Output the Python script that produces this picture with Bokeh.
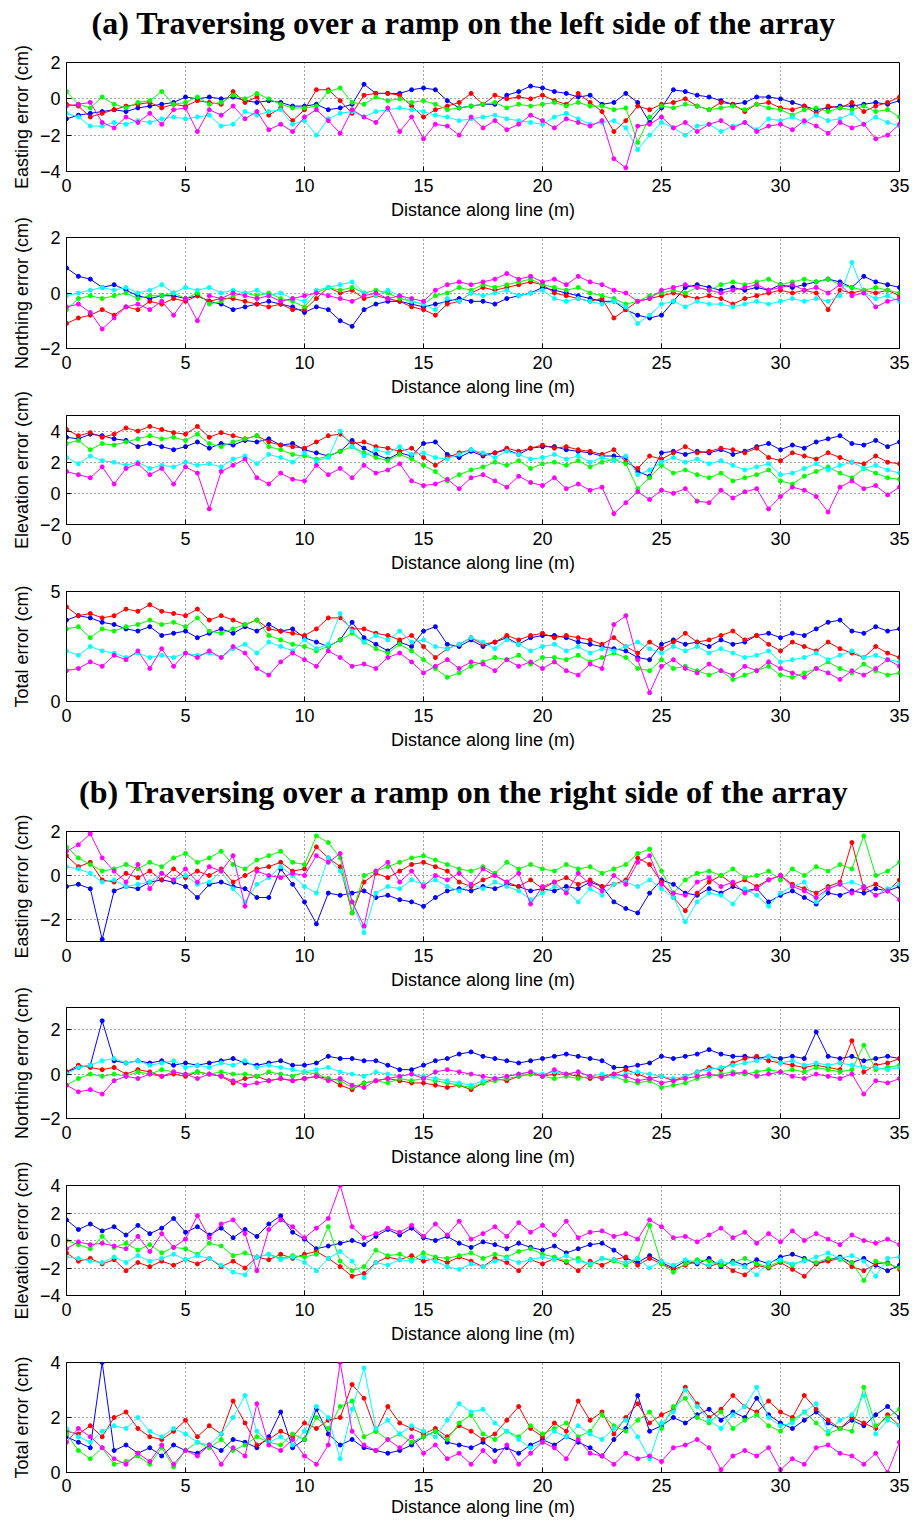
import math
from bokeh.plotting import figure
from bokeh.models import Range1d, FixedTicker
from bokeh.layouts import column, row
from bokeh.core.properties import value
from bokeh.embed import file_html
from bokeh.resources import INLINE

# distance along line (m), sampled every 0.5 m
DIST = [i * 0.5 for i in range(71)]
X_TICKS = [0, 5, 10, 15, 20, 25, 30, 35]
X_LABEL = "Distance along line (m)"
TITLE_A = "(a) Traversing over a ramp on the left side of the array"
TITLE_B = "(b) Traversing over a ramp on the right side of the array"
COLORS = ["#0000ff", "#ff0000", "#00ff00", "#00ffff", "#ff00ff"]

# ---------------- (a) Easting error (cm) ----------------
A_E_BLUE = [-1.1,-0.9,-0.8,-0.7,-0.6,-0.7,-0.5,-0.4,-0.3,-0.2,
            0.1,0.0,0.1,0.0,0.1,-0.1,-0.2,-0.1,-0.2,-0.4,
            -0.4,-0.3,-0.6,-0.5,-0.3,0.8,0.3,0.3,0.3,0.5,
            0.6,0.5,-0.1,-0.5,-0.4,-0.3,-0.3,0.2,0.4,0.7,
            0.6,0.4,0.3,0.1,0.2,-0.3,-0.2,0.3,-0.2,-1.3,
            -0.5,0.5,0.4,0.2,0.1,-0.1,-0.3,-0.2,0.1,0.1,
            0.0,-0.2,-0.4,-0.6,-0.5,-0.4,-0.4,-0.3,-0.2,-0.3,
            -0.1]
A_E_RED = [-0.3,-0.4,-1.0,-0.8,-0.6,-0.4,-0.3,-0.2,-0.5,-0.3,
           -0.4,-0.1,-0.2,-0.3,0.4,-0.2,0.1,-0.9,-0.5,-1.2,
           -0.6,0.5,0.5,-0.1,-0.8,0.2,0.3,0.3,0.2,-0.4,
           -1.0,-0.6,-0.4,-0.2,0.3,-0.3,0.2,0.0,0.1,0.0,
           0.2,-0.1,-0.3,0.3,-0.2,-0.7,-1.8,-1.2,-0.4,-0.6,
           -0.3,-0.2,0.0,-0.4,-0.6,-0.2,-0.3,-0.7,-0.3,-0.2,
           -0.5,-0.6,-0.4,-0.8,-0.4,-0.5,-0.2,-0.7,-0.4,-0.2,
           0.1]
A_E_GREEN = [0.4,-0.3,-0.5,0.1,-0.3,-0.5,-0.2,-0.1,0.4,-0.3,
             -0.2,0.1,-0.3,-0.2,0.2,0.0,0.3,0.0,-0.3,-0.5,
             -0.5,-0.4,0.4,0.6,-0.2,-0.3,0.1,-0.1,0.0,-0.2,
             -0.1,-0.3,-0.6,-0.5,-0.4,-0.3,-0.2,-0.5,-0.3,-0.4,
             -0.3,-0.2,-0.4,-0.2,-0.4,-0.4,-0.6,-0.5,-2.4,-1.0,
             -0.4,-0.5,-0.3,-0.4,-0.6,-0.5,-0.4,-0.6,-0.3,-0.5,
             -0.6,-0.9,-0.6,-0.5,-0.7,-0.5,-0.6,-0.4,-0.7,-0.6,
             -1.0]
A_E_CYAN = [-0.8,-1.0,-1.5,-1.5,-1.3,-1.4,-1.2,-1.3,-1.1,-1.0,
            -1.1,-1.0,-0.9,-1.5,-1.4,-0.7,-0.9,-0.7,-0.6,-1.4,
            -1.2,-2.0,-1.1,-0.8,-0.7,-1.0,-0.7,-0.6,-0.5,-0.6,
            -0.7,-0.9,-1.0,-1.2,-1.1,-1.0,-0.9,-1.1,-1.2,-1.3,
            -1.4,-1.0,-0.8,-1.1,-1.4,-1.3,-1.2,-1.6,-2.8,-2.0,
            -1.3,-1.6,-2.0,-1.5,-1.4,-1.8,-1.5,-1.3,-1.7,-1.1,
            -1.2,-1.0,-1.3,-0.9,-1.2,-1.1,-0.8,-1.4,-1.0,-1.3,
            -1.5]
A_E_MAGENTA = [-0.4,-0.3,-0.2,-1.3,-1.6,-1.0,-1.3,-0.8,-1.4,-0.6,
               -0.5,-1.8,-0.6,-0.9,-0.4,-1.1,-0.7,-1.7,-1.4,-1.8,
               -1.0,-0.6,-1.2,-1.9,-0.6,-1.0,-1.3,-0.5,-1.8,-1.0,
               -2.2,-1.4,-1.5,-2.0,-1.0,-1.6,-1.2,-1.7,-1.4,-0.9,
               -1.2,-1.6,-1.1,-1.3,-1.5,-1.2,-3.3,-3.8,-1.5,-1.4,
               -1.0,-1.6,-1.3,-1.8,-1.4,-1.2,-1.6,-1.3,-1.8,-1.5,
               -1.4,-1.7,-1.2,-1.5,-1.9,-1.3,-1.6,-1.4,-2.2,-2.0,
               -1.4]

# ---------------- (a) Northing error (cm) ----------------
A_N_BLUE = [0.9,0.6,0.5,0.2,0.3,0.1,-0.1,-0.2,-0.1,-0.1,
            -0.2,-0.1,-0.3,-0.4,-0.6,-0.5,-0.4,-0.3,-0.4,-0.5,
            -0.7,-0.5,-0.6,-1.0,-1.2,-0.6,-0.4,-0.3,-0.3,-0.4,
            -0.5,-0.4,-0.3,-0.2,-0.3,-0.3,-0.4,-0.2,-0.1,0.0,
            0.2,0.1,0.0,-0.1,-0.2,-0.3,-0.3,-0.6,-0.8,-0.9,
            -0.8,-0.3,0.2,0.3,0.2,0.1,0.2,0.1,0.2,0.1,
            0.3,0.2,0.3,0.4,0.5,0.4,0.2,0.6,0.4,0.3,
            0.2]
A_N_RED = [-1.1,-0.9,-0.8,-0.6,-0.8,-0.5,-0.6,-0.3,-0.4,-0.2,
           -0.3,-0.1,-0.3,-0.2,-0.2,-0.3,-0.4,-0.5,-0.4,-0.6,
           -0.6,-0.2,0.2,0.0,0.1,-0.2,-0.1,-0.2,-0.3,-0.5,
           -0.6,-0.8,-0.4,-0.3,0.0,0.2,0.1,0.2,0.3,0.4,
           0.3,0.0,-0.1,-0.2,-0.3,-0.2,-0.9,-0.6,-0.3,-0.2,
           -0.1,0.0,-0.1,-0.2,-0.1,-0.2,-0.4,-0.2,-0.1,0.0,
           0.1,0.0,0.1,0.0,-0.6,0.1,0.0,0.1,0.0,0.1,
           -0.1]
A_N_GREEN = [-0.6,-0.2,-0.1,-0.2,-0.1,0.0,-0.2,-0.1,-0.1,0.0,
             -0.2,0.0,-0.4,-0.3,-0.1,0.0,-0.1,0.0,-0.2,-0.3,
             -0.5,0.0,0.2,0.1,0.2,0.0,0.1,0.0,-0.2,-0.3,
             -0.4,-0.1,0.0,0.2,0.1,0.3,0.2,0.3,0.4,0.5,
             0.3,0.2,0.1,0.2,0.0,-0.1,-0.2,-0.4,-0.3,-0.1,
             0.0,0.1,0.0,0.2,0.1,0.3,0.4,0.3,0.4,0.5,
             0.3,0.4,0.5,0.4,0.5,0.3,0.2,0.1,0.2,0.1,
             0.0]
A_N_CYAN = [-0.1,0.0,0.1,0.2,0.1,0.2,0.0,0.1,0.3,0.0,
            0.2,0.1,0.2,0.0,0.1,0.0,0.1,-0.1,0.0,-0.2,
            -0.3,0.1,0.2,0.3,0.4,0.0,-0.1,0.1,-0.1,-0.3,
            -0.4,-0.6,-0.2,-0.3,0.0,-0.1,0.0,0.1,-0.1,0.0,
            0.1,-0.2,-0.3,-0.2,-0.3,-0.4,-0.3,-0.5,-1.1,-0.8,
            -0.4,-0.3,-0.5,-0.3,-0.4,-0.4,-0.5,-0.4,-0.3,-0.4,
            -0.3,-0.2,-0.3,-0.2,-0.3,-0.1,1.1,0.0,-0.2,-0.1,
            -0.3]
A_N_MAGENTA = [-0.5,-0.4,-0.7,-1.3,-0.9,-0.5,-0.4,-0.6,-0.3,-0.8,
               -0.2,-1.0,-0.1,-0.2,0.0,-0.1,-0.2,-0.1,-0.3,-0.2,
               -0.1,0.0,-0.1,-0.2,-0.3,-0.1,0.0,-0.2,-0.1,-0.2,
               -0.3,0.1,0.3,0.4,0.3,0.4,0.5,0.7,0.5,0.6,
               0.4,0.5,0.3,0.6,0.4,0.3,0.1,0.0,-0.3,-0.2,
               0.1,0.2,0.3,0.2,0.1,0.0,0.1,0.2,0.3,0.1,
               0.2,0.3,0.1,0.2,0.0,0.3,-0.1,0.0,-0.5,-0.3,
               -0.2]

# ---------------- (a) Elevation error (cm) ----------------
A_U_BLUE = [3.6,3.5,3.8,3.7,3.5,3.4,3.0,3.2,3.0,2.8,
            3.0,3.3,2.9,3.2,3.1,3.4,3.3,3.5,3.1,3.2,
            2.8,2.6,2.4,2.7,3.4,2.9,2.5,2.2,2.6,2.4,
            3.2,3.3,2.5,2.3,2.7,2.4,2.6,2.8,2.5,2.9,
            3.0,3.0,2.8,2.7,2.6,2.4,2.4,2.3,1.4,1.1,
            2.6,2.7,2.5,2.7,2.6,2.8,2.5,2.7,3.0,3.2,
            2.8,3.1,2.9,3.3,3.5,3.7,3.2,3.1,3.4,3.0,
            3.3]
A_U_RED = [4.1,3.7,3.9,3.6,3.8,4.2,4.0,4.3,4.1,3.9,
           3.8,4.3,3.6,3.9,3.7,3.5,3.7,3.3,3.1,3.0,
           2.9,3.3,3.7,3.8,3.2,3.3,3.0,2.9,2.7,2.9,
           2.3,1.8,2.3,2.6,2.8,2.5,2.6,2.9,2.7,2.9,
           3.1,2.9,3.0,2.8,2.7,2.5,2.8,2.0,1.6,2.4,
           2.2,2.6,3.0,2.6,2.7,2.9,2.8,2.6,2.9,2.3,
           2.1,2.6,2.4,2.2,2.6,2.3,2.0,1.9,2.4,2.0,
           1.9]
A_U_GREEN = [3.2,3.4,2.8,3.2,3.1,3.3,3.5,3.7,3.5,3.6,
             3.4,3.8,3.2,3.0,3.3,3.5,3.7,3.0,2.8,2.5,
             2.4,2.2,2.4,2.7,3.0,2.6,2.3,2.1,2.5,2.2,
             1.8,1.4,0.8,1.2,1.5,1.7,2.0,1.8,2.1,1.6,
             1.9,2.0,1.8,2.1,1.7,2.0,2.2,1.9,0.3,1.0,
             1.8,1.3,1.5,1.2,1.0,1.3,0.8,1.0,1.2,1.5,
             0.8,0.6,1.1,1.4,1.7,1.3,1.0,1.6,1.3,1.0,
             0.9]
A_U_CYAN = [2.3,1.9,2.4,2.1,2.0,1.8,2.0,1.6,1.8,1.7,
            2.0,1.8,1.9,1.7,2.2,2.4,1.9,2.5,2.3,2.0,
            2.6,2.1,2.3,4.0,3.0,2.4,2.8,2.6,3.0,2.5,
            2.6,2.3,2.2,2.5,2.8,2.6,2.3,2.7,2.5,2.2,
            2.3,2.5,2.2,2.4,2.0,2.3,2.1,2.4,1.2,1.5,
            2.0,2.3,2.0,2.2,1.9,2.1,1.8,1.5,1.7,1.9,
            1.2,1.3,1.6,1.9,1.5,1.8,2.0,1.6,1.8,1.5,
            1.3]
A_U_MAGENTA = [1.4,1.2,1.0,1.7,0.6,1.6,1.9,1.2,1.6,0.6,
               1.7,1.3,-1.0,1.4,1.8,2.2,1.0,0.6,1.3,0.9,
               0.8,1.8,1.2,1.6,1.0,1.8,1.3,1.5,1.9,0.8,
               0.5,0.6,0.9,0.3,1.0,1.2,0.8,0.4,1.1,0.7,
               0.5,1.0,0.3,0.6,0.2,0.4,-1.3,-0.6,0.1,-0.4,
               0.2,0.0,0.3,-0.5,-0.6,0.2,-0.3,0.1,0.3,-1.0,
               -0.2,0.4,0.2,-0.2,-1.2,0.4,0.8,0.3,0.5,-0.1,
               0.4]

# ---------------- (a) Total error (cm) ----------------
A_T_BLUE = [3.7,3.9,3.8,3.6,3.5,3.3,3.2,3.4,3.0,3.1,
            3.2,2.9,3.1,3.3,3.1,3.4,3.2,3.5,3.2,3.3,
            2.9,2.7,2.5,2.8,3.6,2.9,2.6,2.3,2.7,2.5,
            3.2,3.4,2.6,2.5,2.8,2.5,2.7,2.9,2.6,2.9,
            3.0,3.0,2.9,2.7,2.6,2.5,2.4,2.3,2.0,1.9,
            2.6,2.8,2.6,2.7,2.5,2.8,2.6,2.7,3.0,3.1,
            2.9,3.1,3.0,3.3,3.6,3.7,3.2,3.1,3.4,3.2,
            3.3]
A_T_RED = [4.3,3.9,4.0,3.8,3.9,4.2,4.1,4.4,4.1,4.0,
           3.9,4.2,3.7,3.9,3.7,3.5,3.7,3.3,3.2,3.1,
           3.0,3.3,3.8,3.8,3.3,3.3,3.1,3.0,2.8,3.0,
           2.5,2.0,2.4,2.6,2.9,2.6,2.7,3.0,2.8,3.0,
           3.1,2.9,3.0,2.9,2.8,2.6,2.9,2.5,2.2,2.7,
           2.4,2.7,3.1,2.7,2.8,3.0,3.2,2.8,3.0,2.6,
           2.3,2.7,2.5,2.3,2.7,2.4,2.2,2.0,2.5,2.2,
           2.0]
A_T_GREEN = [3.3,3.4,2.9,3.3,3.2,3.4,3.5,3.7,3.5,3.6,
             3.4,3.8,3.2,3.1,3.3,3.5,3.7,3.0,2.8,2.6,
             2.5,2.3,2.5,2.8,3.1,2.7,2.4,2.2,2.6,2.3,
             1.9,1.5,1.1,1.3,1.6,1.8,2.0,1.9,2.1,1.7,
             2.0,2.0,1.9,2.1,1.8,2.0,2.2,2.0,1.5,1.4,
             1.9,1.5,1.6,1.4,1.2,1.4,1.0,1.2,1.4,1.6,
             1.2,1.1,1.3,1.5,1.8,1.5,1.3,1.7,1.4,1.2,
             1.3]
A_T_CYAN = [2.3,2.1,2.5,2.3,2.2,2.0,2.2,2.0,2.1,2.0,
            2.2,2.1,2.2,2.0,2.4,2.6,2.2,2.7,2.5,2.3,
            2.8,2.4,2.6,4.0,3.2,2.7,3.0,2.8,3.2,2.7,
            2.8,2.5,2.4,2.6,2.9,2.7,2.4,2.8,2.6,2.3,
            2.5,2.6,2.3,2.5,2.2,2.4,2.3,2.5,2.7,2.4,
            2.2,2.5,2.3,2.5,2.2,2.4,2.2,2.0,2.1,2.3,
            1.8,1.9,2.0,2.2,1.9,2.1,2.3,2.0,2.1,1.9,
            1.8]
A_T_MAGENTA = [1.4,1.5,1.8,1.6,2.1,1.9,2.3,1.5,2.4,1.6,
               2.2,2.0,2.3,2.0,2.5,2.2,1.5,1.2,1.8,2.2,
               1.9,1.6,2.3,2.0,1.6,1.7,1.5,2.0,2.2,1.8,
               1.3,1.6,1.9,1.5,1.8,1.7,1.4,1.9,1.6,1.8,
               1.5,1.8,1.4,1.2,1.7,1.5,3.5,3.9,1.9,0.4,
               1.6,1.9,1.5,1.3,1.7,1.4,1.2,1.6,1.4,1.8,
               1.5,1.3,1.1,1.5,1.3,1.0,1.4,1.2,1.5,1.9,
               1.6]

# ---------------- (b) Easting error (cm) ----------------
B_E_BLUE = [-0.5,-0.4,-0.6,-2.9,-0.7,-0.5,-0.6,-0.3,-0.2,-0.3,
            -0.5,-1.0,-0.4,-0.3,-0.5,-0.6,-1.0,-1.0,0.3,-0.4,
            -1.2,-2.2,-0.8,-0.9,-0.8,-0.7,-1.0,-0.9,-1.1,-1.2,
            -1.4,-1.0,-0.7,-0.6,-0.7,-0.5,-0.6,-0.4,-0.5,-0.7,
            -0.6,-0.7,-0.5,-0.6,-0.3,-0.5,-1.2,-1.5,-1.7,-0.8,
            -0.2,-0.4,-0.8,-0.9,-0.6,-0.8,-0.5,-0.7,-0.6,-1.2,
            -0.9,-0.7,-1.0,-1.3,-0.8,-0.9,-0.7,-0.8,-0.6,-0.7,
            -0.5]
B_E_RED = [0.9,0.4,0.6,-0.2,-0.3,0.1,-0.1,0.2,-0.2,0.3,
           -0.1,0.2,0.0,0.3,-0.3,0.0,0.3,0.4,0.6,0.2,
           0.3,1.3,0.8,0.4,-1.7,-0.3,0.1,-0.1,0.2,0.5,
           0.6,0.4,0.2,-0.3,-0.5,-0.2,0.0,-0.3,-0.5,-0.2,
           -0.6,-0.3,-0.1,-0.4,-0.2,-0.5,-0.4,-0.2,0.8,0.5,
           -0.3,-1.0,-1.6,-0.8,-0.3,0.0,-0.4,-0.2,-0.5,-0.2,
           0.0,-0.4,-0.6,-0.8,-0.5,-0.3,1.5,-0.6,-0.4,-0.7,
           -0.2]
B_E_GREEN = [1.3,0.8,0.5,0.2,0.3,0.5,0.3,0.6,0.4,0.8,
             1.0,0.6,0.8,1.1,0.5,0.3,0.7,0.9,1.1,0.6,
             0.5,1.8,1.5,0.8,-1.7,0.0,0.2,0.4,0.6,0.8,
             0.9,0.7,0.5,0.3,0.2,0.4,0.1,0.6,0.3,0.5,
             0.3,0.2,0.5,0.3,0.4,0.1,0.3,0.5,1.0,1.2,
             0.2,-0.8,-0.2,0.1,0.2,0.0,0.3,-0.1,0.0,0.2,
             -0.2,0.3,0.0,0.4,0.2,0.5,0.3,1.8,0.0,0.2,
             0.6]
B_E_CYAN = [0.4,0.3,0.1,-0.3,-0.2,-0.5,-0.4,-0.3,0.1,-0.2,
            0.0,-0.4,-0.3,0.2,-0.6,-1.2,-0.4,-0.1,0.4,0.0,
            -0.5,-0.8,0.8,0.2,-1.2,-2.6,-0.8,-0.5,-0.6,-0.2,
            -0.4,-0.2,-0.5,-0.7,-0.4,-0.6,-0.3,-0.5,-0.7,-1.1,
            -0.8,-0.5,-0.7,-1.2,-0.6,-0.9,-0.4,-0.3,-0.5,-0.2,
            -0.6,-1.0,-2.1,-1.2,-0.8,-0.9,-1.3,-0.6,-0.9,-1.4,
            -0.8,-0.5,-0.3,-1.2,-0.6,-0.4,-0.3,-0.5,-0.9,-0.6,
            -0.4]
B_E_MAGENTA = [1.1,1.4,1.9,0.8,0.2,-0.3,0.5,-0.6,0.1,-0.2,
               0.3,-0.3,0.4,0.2,0.9,-1.4,0.2,0.0,-0.1,0.1,
               0.0,0.9,0.6,1.0,-1.2,-2.3,0.2,0.6,-0.3,0.2,
               -0.5,0.0,-0.2,0.1,-0.4,0.3,0.0,-0.3,0.1,-1.3,
               -0.5,-0.3,-0.8,0.1,-0.4,-0.7,0.0,-0.4,0.6,0.9,
               -0.4,-0.8,-0.9,-0.3,-0.1,-0.5,-0.3,-0.8,-0.6,-0.2,
               0.0,-0.5,-0.7,-1.0,-0.6,-0.4,-0.8,-0.5,-0.9,-0.7,
               -1.1]

# ---------------- (b) Northing error (cm) ----------------
B_N_BLUE = [0.1,0.3,0.4,2.4,0.6,0.5,0.6,0.5,0.6,0.4,
            0.5,0.4,0.5,0.6,0.7,0.5,0.4,0.5,0.6,0.4,
            0.4,0.5,0.8,0.7,0.7,0.6,0.6,0.4,0.2,0.2,
            0.4,0.6,0.7,0.9,1.0,0.8,0.7,0.6,0.5,0.6,
            0.7,0.8,0.9,0.8,0.7,0.6,0.3,0.3,0.4,0.5,
            0.8,0.7,0.8,0.9,1.1,0.9,0.8,0.8,0.7,0.8,
            0.7,0.8,0.7,1.9,0.8,0.7,0.8,0.6,0.7,0.8,
            0.7]
B_N_RED = [0.1,0.4,0.3,0.2,0.3,0.0,0.2,0.1,-0.1,0.0,
           -0.1,0.1,0.0,-0.1,-0.4,-0.2,-0.1,-0.3,-0.2,-0.3,
           -0.2,-0.1,-0.2,-0.5,-0.7,-0.4,-0.3,-0.2,-0.3,-0.4,
           -0.4,-0.5,-0.6,-0.5,-0.7,-0.4,-0.2,-0.3,-0.1,0.0,
           -0.1,0.0,0.0,-0.1,-0.2,-0.1,0.0,0.2,0.0,-0.2,
           -0.1,-0.3,-0.1,0.1,0.3,0.2,0.5,0.7,0.8,0.6,
           0.5,0.4,0.3,0.4,0.3,0.2,1.5,0.1,0.4,0.5,
           0.7]
B_N_GREEN = [-0.5,-0.2,0.0,-0.1,0.0,-0.1,0.1,0.0,0.2,0.1,
             0.0,0.1,0.0,0.1,0.0,0.0,-0.1,0.1,0.0,-0.1,
             0.1,0.0,-0.2,-0.3,-0.6,-0.4,-0.3,-0.4,-0.2,-0.3,
             -0.2,-0.3,-0.4,-0.5,-0.6,-0.4,-0.3,-0.2,-0.1,0.0,
             -0.1,-0.2,-0.1,-0.2,-0.1,-0.2,-0.1,-0.3,-0.4,-0.3,
             -0.6,-0.5,-0.4,-0.2,-0.1,0.0,0.1,0.0,0.1,0.2,
             0.1,0.2,0.1,0.3,0.2,0.1,0.2,1.3,0.2,0.3,
             0.4]
B_N_CYAN = [0.0,0.3,0.4,0.6,0.7,0.5,0.6,0.4,0.5,0.6,
            0.3,0.4,0.3,0.5,0.4,0.6,0.3,0.4,0.3,0.2,
            0.1,0.2,0.3,0.1,0.0,-0.1,0.1,0.0,-0.1,0.0,
            -0.1,-0.2,-0.3,-0.4,-0.5,-0.3,-0.2,-0.1,0.0,0.1,
            0.0,0.1,0.0,0.1,-0.1,0.0,-0.1,0.0,0.1,0.0,
            -0.1,-0.2,-0.1,0.1,0.2,0.3,0.4,0.5,0.6,0.8,
            0.5,0.6,0.4,0.5,0.4,0.5,0.4,0.3,0.3,0.2,
            0.3]
B_N_MAGENTA = [-0.5,-0.8,-0.7,-0.9,-0.3,-0.1,-0.2,0.0,-0.1,0.1,
               0.0,-0.2,0.0,-0.1,-0.3,-0.5,-0.4,-0.3,-0.2,-0.3,
               -0.2,-0.1,-0.3,-0.2,-0.5,-0.6,-0.3,-0.2,-0.1,0.0,
               -0.2,0.1,0.2,0.1,0.0,-0.1,-0.2,-0.1,0.0,0.1,
               -0.1,0.2,0.0,0.1,-0.1,-0.2,0.0,-0.1,-0.3,-0.2,
               -0.4,-0.3,-0.2,-0.1,0.0,-0.1,0.0,0.1,-0.1,0.0,
               0.1,-0.1,-0.2,0.0,-0.1,-0.2,0.0,-0.9,-0.3,-0.4,
               -0.2]

# ---------------- (b) Elevation error (cm) ----------------
B_U_BLUE = [1.5,0.8,1.2,0.7,1.0,0.4,1.1,0.5,0.9,1.6,
            0.6,1.0,0.4,0.9,0.2,0.8,0.3,1.2,1.8,0.6,
            0.1,-0.6,-0.4,-0.2,0.0,-0.3,0.3,0.8,0.4,0.9,
            0.2,0.0,0.3,-0.2,-0.5,-0.1,-0.3,-0.6,-0.2,-0.5,
            -0.7,-0.4,-0.9,-0.6,-0.3,-0.2,-0.7,-1.3,-1.6,-1.1,
            -1.6,-2.0,-1.5,-1.7,-1.3,-1.9,-1.5,-1.8,-1.4,-1.7,
            -1.2,-1.0,-1.3,-1.7,-1.4,-1.2,-1.6,-1.3,-1.8,-2.2,
            -1.8]
B_U_RED = [-0.9,-1.5,-1.3,-1.7,-1.4,-2.2,-1.6,-1.9,-1.5,-1.8,
           -1.4,-1.7,-1.3,-1.9,-1.5,-2.0,-1.2,-1.4,-1.0,-1.3,
           -1.0,-0.8,-1.3,-1.9,-2.6,-2.4,-1.6,-1.2,-1.4,-1.1,
           -1.5,-1.3,-1.6,-1.2,-1.5,-1.9,-1.3,-1.6,-2.2,-1.4,
           -1.7,-1.3,-1.6,-2.2,-1.5,-1.8,-1.4,-1.2,-1.8,-1.3,
           -1.7,-2.1,-1.8,-1.5,-1.9,-1.6,-2.2,-2.5,-1.8,-2.0,
           -1.6,-2.1,-2.6,-1.7,-1.5,-1.3,-1.9,-2.2,-1.7,-1.6,
           -2.1]
B_U_GREEN = [0.0,-0.3,-0.6,0.3,-0.5,-0.2,-0.7,-0.3,-0.9,-0.5,
             -0.6,-1.0,-0.2,-0.4,-1.1,-0.9,-1.2,-1.0,-1.3,-1.1,
             -1.2,-1.0,1.0,-1.5,-2.2,-1.9,-0.7,-1.1,-1.0,-1.4,
             -0.9,-1.2,-1.3,-1.1,-0.9,-1.3,-1.0,-1.2,-0.8,-0.6,
             -1.0,-1.2,-1.5,-1.3,-1.8,-1.3,-1.5,-1.8,-1.3,1.1,
             -1.7,-2.3,-1.7,-1.4,-1.5,-1.8,-1.6,-1.3,-1.7,-1.9,
             -1.5,-1.8,-1.4,-1.6,-1.3,-1.4,-1.6,-2.9,-1.5,-1.7,
             -2.0]
B_U_CYAN = [-1.2,-1.3,-1.5,-1.6,-1.2,-1.6,-1.1,-1.5,-1.3,-1.0,
            -1.4,-1.1,-1.3,-1.8,-2.3,-2.5,-1.2,-1.0,-1.4,-1.2,
            -1.6,-2.2,-1.3,-0.8,-1.5,-2.7,-1.6,-1.8,-1.4,-1.5,
            -1.2,-1.5,-1.9,-2.1,-1.7,-1.9,-1.5,-1.3,-1.6,-1.4,
            -1.2,-1.4,-1.1,-1.5,-1.7,-1.3,-1.4,-1.6,-1.3,-2.0,
            -1.5,-1.8,-1.4,-1.6,-1.8,-1.5,-1.7,-1.9,-2.5,-1.6,
            -1.4,-1.7,-1.5,-1.2,-0.9,-1.3,-1.1,-1.5,-2.6,-1.3,
            -1.2]
B_U_MAGENTA = [-0.6,-0.1,-0.3,-0.2,-0.4,-0.6,0.3,-0.8,0.5,-0.5,
               0.1,1.8,0.2,1.2,1.5,0.5,-2.2,0.8,1.5,1.0,
               0.2,0.9,1.6,4.0,1.0,0.2,0.5,0.9,0.6,1.1,
               0.3,1.2,0.4,1.4,0.1,0.5,1.0,0.3,1.3,0.6,
               1.1,0.4,1.4,0.2,0.6,0.7,0.3,0.5,0.1,1.5,
               1.0,0.2,0.3,-0.1,0.4,0.9,0.2,0.6,-0.2,0.5,
               -0.1,0.7,0.0,0.5,0.1,-0.3,0.4,0.0,-0.2,0.1,
               -0.3]

# ---------------- (b) Total error (cm) ----------------
B_T_BLUE = [1.3,1.1,0.9,4.0,0.8,1.0,0.7,0.9,0.6,1.0,
            0.8,0.7,1.0,0.8,1.2,1.1,0.9,1.3,2.2,0.9,
            1.2,2.3,1.4,1.0,1.2,0.9,0.8,0.7,0.8,1.0,
            1.3,1.5,1.1,1.0,0.9,1.1,0.8,0.9,0.7,1.0,
            1.2,1.0,1.3,1.1,0.9,0.6,1.2,1.6,2.8,1.5,
            1.7,2.0,1.8,2.1,2.3,1.9,2.2,2.0,2.7,2.1,
            1.8,1.6,1.9,2.2,1.8,1.6,1.9,1.7,2.1,2.4,
            2.0]
B_T_RED = [1.5,1.4,1.7,1.3,2.0,2.2,1.6,1.3,1.2,1.5,
           1.9,1.3,1.7,1.4,2.6,1.8,1.0,1.2,1.5,1.3,
           1.8,1.6,1.9,2.0,3.2,2.7,1.5,2.4,1.8,1.6,
           1.4,1.6,1.3,1.7,1.5,1.2,1.4,1.9,2.4,1.6,
           1.3,1.8,1.5,2.6,1.9,2.2,1.4,2.0,2.5,1.8,
           2.1,2.3,3.1,2.5,2.0,2.3,2.8,2.4,2.2,2.6,
           2.2,2.0,2.8,2.3,1.9,1.6,2.0,1.8,1.6,2.1,
           1.7]
B_T_GREEN = [1.4,0.8,0.5,0.9,0.3,0.4,0.6,0.3,0.9,0.2,
             0.8,1.1,0.9,1.2,0.8,1.0,1.3,1.1,1.0,1.4,
             1.2,2.0,1.6,2.4,2.6,1.3,1.5,1.2,1.4,1.1,
             1.3,1.5,1.2,1.8,2.1,1.4,1.2,1.5,1.3,1.7,
             1.4,1.6,1.8,1.3,1.5,2.1,1.7,1.5,1.9,2.2,
             1.6,2.4,2.7,2.0,1.8,2.2,1.6,1.9,2.1,1.7,
             1.5,1.9,2.2,1.8,1.4,1.6,1.5,3.1,1.7,2.0,
             2.3]
B_T_CYAN = [1.6,1.3,1.1,1.5,1.7,1.6,2.0,1.5,1.3,1.6,
            1.4,1.1,1.0,1.4,2.0,2.8,1.5,1.1,1.3,1.0,
            1.5,2.4,2.0,0.5,2.3,3.8,1.6,1.9,1.4,1.7,
            1.5,1.3,1.9,2.5,2.2,2.3,1.8,1.5,1.2,0.9,
            1.1,1.5,1.3,1.7,1.4,1.2,1.6,1.9,1.3,0.5,
            1.8,2.2,3.0,2.4,1.9,1.6,2.1,2.4,3.1,2.0,
            1.7,1.8,2.2,2.5,1.5,1.9,2.1,2.8,1.4,1.9,
            1.7]
B_T_MAGENTA = [1.1,1.6,1.3,0.9,0.5,0.3,0.7,0.4,1.0,0.3,
               0.8,0.6,1.0,0.3,0.9,0.6,2.5,1.0,0.8,1.2,
               0.6,0.3,1.0,4.0,1.5,1.0,0.8,1.2,0.9,1.3,
               0.7,1.0,0.5,0.7,0.3,0.8,0.4,1.0,0.3,0.7,
               1.1,0.9,0.5,1.2,0.7,0.6,0.3,0.7,0.5,0.6,
               0.4,0.9,1.0,1.2,0.9,0.1,0.6,0.8,0.6,0.9,
               0.1,0.5,0.3,0.9,1.0,0.7,0.6,0.3,0.7,0.0,
               1.1]

# panel definitions: (y label, y range, y ticks, series)
PANELS = [
    ("Easting error (cm)", (-4, 2), [-4, -2, 0, 2],
     [A_E_BLUE, A_E_RED, A_E_GREEN, A_E_CYAN, A_E_MAGENTA]),
    ("Northing error (cm)", (-2, 2), [-2, 0, 2],
     [A_N_BLUE, A_N_RED, A_N_GREEN, A_N_CYAN, A_N_MAGENTA]),
    ("Elevation error (cm)", (-2, 5), [-2, 0, 2, 4],
     [A_U_BLUE, A_U_RED, A_U_GREEN, A_U_CYAN, A_U_MAGENTA]),
    ("Total error (cm)", (0, 5), [0, 5],
     [A_T_BLUE, A_T_RED, A_T_GREEN, A_T_CYAN, A_T_MAGENTA]),
    ("Easting error (cm)", (-3, 2), [-2, 0, 2],
     [B_E_BLUE, B_E_RED, B_E_GREEN, B_E_CYAN, B_E_MAGENTA]),
    ("Northing error (cm)", (-2, 3), [-2, 0, 2],
     [B_N_BLUE, B_N_RED, B_N_GREEN, B_N_CYAN, B_N_MAGENTA]),
    ("Elevation error (cm)", (-4, 4), [-4, -2, 0, 2, 4],
     [B_U_BLUE, B_U_RED, B_U_GREEN, B_U_CYAN, B_U_MAGENTA]),
    ("Total error (cm)", (0, 4), [0, 2, 4],
     [B_T_BLUE, B_T_RED, B_T_GREEN, B_T_CYAN, B_T_MAGENTA]),
]

# ---------------- layout constants (pixels) ----------------
PAGE_W, PAGE_H = 912, 1521
STRIP_W = 36                      # left strip that carries the y-axis titles
MAIN_W = PAGE_W - STRIP_W
TITLE_H = {0: 50, 4: 64}          # title band placed before panel index
TITLE_TEXT = {0: TITLE_A, 4: TITLE_B}
TITLE_CX = 418                    # title centre inside the band
TITLE_CY = {0: 22, 4: 36}
TOPS = [12, 12, 13, 13, 12, 12, 13, 13]
FRAMES = [109, 111, 109, 110, 110, 111, 110, 110]
BOTTOMS = [54, 54, 54, 54, 54, 54, 54, 49]
YLABEL_X = 21

SANS = "Liberation Sans"
SERIF = "Liberation Serif"


def blank_fig(w, h, xr, yr):
    f = figure(width=w, height=h, x_range=Range1d(*xr), y_range=Range1d(*yr),
               output_backend="svg", toolbar_location=None,
               x_axis_type=None, y_axis_type=None,
               min_border_left=0, min_border_right=0,
               min_border_top=0, min_border_bottom=0)
    f.outline_line_color = None
    f.grid.visible = False
    f.background_fill_color = "white"
    f.border_fill_color = "white"
    return f


children = []
label_y, label_txt = [], []
y_cursor = 0
for i, (ylab, yr, yt, series) in enumerate(PANELS):
    if i in TITLE_H:
        th = TITLE_H[i]
        tf = blank_fig(MAIN_W, th, (0, MAIN_W), (th, 0))
        tf.text(x=[TITLE_CX], y=[TITLE_CY[i]], text=[TITLE_TEXT[i]],
                text_align="center", text_baseline="middle",
                text_font=value(SERIF), text_font_size=value("32px"),
                text_font_style="bold", text_color="black")
        children.append(tf)
        y_cursor += th
    h = TOPS[i] + FRAMES[i] + BOTTOMS[i]
    label_y.append(y_cursor + TOPS[i] + FRAMES[i] / 2)
    label_txt.append(ylab)
    y_cursor += h

    p = figure(width=MAIN_W, height=h, x_range=Range1d(0, 35), y_range=Range1d(*yr),
               output_backend="svg", toolbar_location=None,
               min_border_left=66 - STRIP_W, min_border_right=13,
               min_border_top=TOPS[i], min_border_bottom=BOTTOMS[i])
    p.outline_line_color = "black"
    p.outline_line_width = 1
    p.background_fill_color = "white"
    p.border_fill_color = "white"
    p.xaxis.ticker = FixedTicker(ticks=X_TICKS)
    p.yaxis.ticker = FixedTicker(ticks=yt)
    p.yaxis.major_label_overrides = {t: "\u2212" + str(abs(t)) for t in yt if t < 0}
    p.xaxis.axis_label = X_LABEL
    for ax in (p.xaxis[0], p.yaxis[0]):
        ax.axis_label_text_font = SANS
        ax.axis_label_text_font_style = "normal"
        ax.axis_label_text_font_size = "18px"
        ax.axis_label_text_color = "black"
        ax.major_label_text_font = SANS
        ax.major_label_text_font_size = "18px"
        ax.major_label_text_color = "black"
        ax.major_tick_in = 5
        ax.major_tick_out = 0
        ax.minor_tick_line_color = None
        ax.axis_line_color = "black"
        ax.major_tick_line_color = "black"
        ax.major_label_standoff = 6
    if i == len(PANELS) - 1:
        p.xaxis.major_label_standoff = 6
        p.xaxis.axis_label_standoff = 2
    else:
        p.xaxis.major_label_standoff = 7
        p.xaxis.axis_label_standoff = 5
    for g in (p.xgrid[0], p.ygrid[0]):
        g.grid_line_color = "black"
        g.grid_line_dash = "1 3"
        g.grid_line_alpha = 0.7
    for col, vals in zip(COLORS, series):
        p.line(DIST, vals, line_color=col, line_width=1)
        p.scatter(DIST, vals, marker="circle", size=4, fill_color=col, line_color=col)
    children.append(p)

# strip with the y-axis titles (rotated, reading upwards)
strip = blank_fig(STRIP_W, PAGE_H, (0, STRIP_W), (PAGE_H, 0))
strip.text(x=[YLABEL_X] * len(label_y), y=label_y, text=label_txt,
           angle=math.pi / 2, text_align="center", text_baseline="middle",
           text_font=value(SANS), text_font_size=value("18px"), text_color="black")

layout = row(strip, column(*children, spacing=0), spacing=0)
open("out.html", "w").write(file_html(layout, INLINE))
